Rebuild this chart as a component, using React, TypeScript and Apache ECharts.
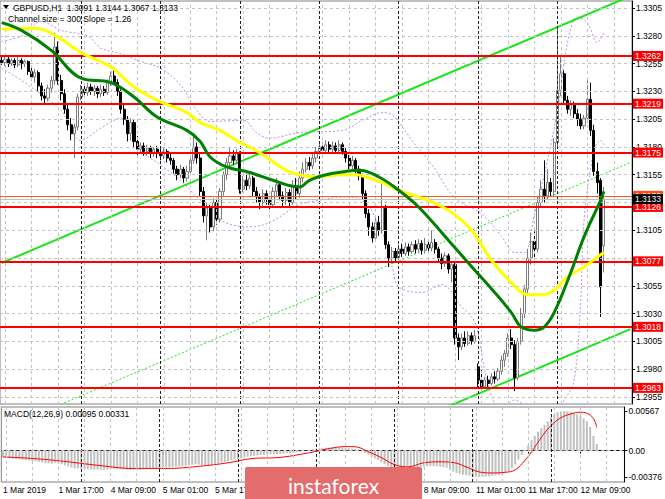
import React, { useEffect, useRef } from "react";
import * as echarts from "echarts";

const FONT = '"Liberation Sans", Arial, sans-serif';

// trading days and hourly bars shown for each
const DAYS: [string, number][] = [
  ["1 Mar", 24], ["4 Mar", 24], ["5 Mar", 24], ["6 Mar", 24],
  ["7 Mar", 24], ["8 Mar", 24], ["11 Mar", 24], ["12 Mar", 15],
];
const SLOT_COUNT = 191;

// candles: [open, close, low, high] in pips above 1.3000
const mar01 = [
  [258,256,254,261],[256,259,253,261],[259,255,252,262],[255,258,253,260],[258,254,251,260],[254,258,252,261],[258,255,250,260],[255,257,252,259],
  [257,248,245,258],[248,243,240,252],[243,247,238,250],[247,235,230,249],[235,226,222,238],[226,224,219,232],[224,233,221,236],[233,240,229,244],
  [240,270,236,283],[270,240,236,275],[240,228,222,245],[228,214,210,232],[214,200,195,218],[200,192,186,206],[192,198,170,201],[198,225,195,228],
];
const mar04 = [
  [225,232,222,236],[232,229,225,236],[229,234,226,238],[234,230,227,237],[230,233,226,236],[233,228,224,235],[228,232,225,236],[232,229,226,235],
  [229,238,227,241],[238,244,235,248],[244,238,236,252],[238,230,226,241],[230,214,210,232],[214,205,200,218],[205,192,185,208],[192,202,186,206],
  [202,185,180,205],[185,178,171,190],[178,181,174,184],[181,176,172,184],[176,179,172,182],[179,174,170,181],[174,178,171,180],[178,175,170,181],
];
const mar05 = [
  [175,172,168,178],[172,176,169,180],[176,170,166,178],[170,168,164,174],[168,160,156,170],[160,155,150,163],[155,160,152,164],[160,152,148,162],
  [152,158,149,163],[158,168,155,172],[168,180,165,189],[180,170,165,184],[170,140,136,174],[140,118,112,144],[118,125,96,130],[125,108,103,128],
  [108,130,104,134],[130,115,110,135],[115,140,112,143],[140,155,136,158],[155,166,150,170],[166,172,162,179],[172,168,164,177],[168,174,165,178],
];
const mar06 = [
  [174,142,138,176],[142,150,139,154],[150,145,141,156],[145,152,142,157],[152,140,136,154],[140,135,130,144],[135,130,124,138],[130,138,127,142],
  [138,133,128,141],[133,128,123,136],[128,140,126,144],[140,146,136,152],[146,136,132,149],[136,132,127,140],[132,139,128,143],[139,130,126,142],
  [130,145,128,150],[145,138,133,152],[138,152,134,158],[152,160,148,166],[160,166,157,170],[166,163,159,171],[163,170,160,174],[170,176,166,180],
];
const mar07 = [
  [176,180,173,184],[180,177,174,184],[177,182,175,186],[182,178,175,185],[178,181,175,185],[181,177,174,184],[177,182,175,186],[182,176,173,184],
  [176,170,166,179],[170,163,160,173],[163,168,160,172],[168,160,156,170],[160,154,150,163],[154,138,133,156],[138,120,116,141],[120,108,100,124],
  [108,98,94,112],[98,112,95,116],[112,105,100,118],[105,126,102,148],[126,92,88,128],[92,80,72,95],[80,86,75,90],[86,80,77,89],
];
const mar08 = [
  [80,88,78,92],[88,84,81,93],[84,90,82,94],[90,86,82,93],[86,92,84,95],[92,88,84,96],[88,93,85,97],[93,87,83,96],
  [87,92,84,98],[92,89,85,96],[89,94,86,105],[94,88,84,97],[88,80,76,90],[80,75,70,84],[75,82,72,85],[82,70,66,84],
  [70,74,58,77],[74,8,2,76],[8,0,-12,12],[0,8,-3,12],[8,3,0,14],[3,10,1,14],[10,5,2,13],[5,10,3,15],
];
const mar11 = [
  [-18,-30,-38,-15],[-30,-36,-40,-20],[-36,-30,-38,-27],[-30,-33,-37,-26],[-33,-27,-35,-24],[-27,-29,-33,-22],[-29,-22,-31,-19],[-22,-12,-25,-8],
  [-12,-6,-18,-3],[-6,8,-9,12],[8,2,-2,16],[2,-28,-40,6],[-28,5,-30,8],[5,30,2,35],[30,52,26,56],[52,80,48,88],
  [80,95,74,103],[95,88,80,104],[88,130,85,136],[130,142,126,150],[142,136,130,168],[136,148,132,160],[148,140,135,152],[140,184,136,188],
];
const mar12 = [
  [184,231,180,288],[231,246,226,261],[246,222,218,249],[222,214,210,226],[214,218,208,222],[218,210,206,221],[210,205,199,214],[205,199,196,210],
  [199,206,196,209],[206,223,202,240],[223,195,190,238],[195,158,154,200],[158,148,138,166],[150,54,27,152],[91,133,67,144],
];

// price axis ticks; labels hidden behind level tags in the reference are left out
const priceTicks = [1.2955,1.298,1.3005,1.303,1.3055,1.308,1.3105,1.313,1.3155,1.318,1.3205,1.323,1.3255,1.328,1.3305];
const priceLabels = [1.2955,1.298,1.3005,1.303,1.3055,1.3105,1.3155,1.318,1.3205,1.323,1.3255,1.328,1.3305];
const redLevels = [1.3262, 1.3219, 1.3175, 1.3126, 1.3077, 1.3018, 1.2963];
const askLevel = 1.3136;
const bidLevel = 1.3133;

// moving averages: [bar index, pips above 1.3000]
const yellowMA = [[0,286],[10,287],[17,279],[24,265],[33,252],[40,234],[47,222],[56,211],[60,202],[66,195],[72,184],[75,180],[80,171],[86,159],[90,155],[95,153],[103,155],[107,155],[110,153],[115,148],[120,141],[126,135],[135,123],[142,105],[148,78],[154,58],[159,47],[163,47],[167,51],[171,63],[176,72],[181,83],[182,85]];
const greenMA = [[0,292],[6,285],[15,267],[24,242],[33,238],[40,225],[47,207],[56,195],[60,185],[63,171],[68,162],[75,157],[82,150],[90,144],[93,150],[98,155],[104,158],[108,159],[114,153],[120,141],[126,126],[135,96],[143,69],[149,49],[154,31],[157,18],[161,15],[164,18],[167,31],[172,67],[176,99],[181,132],[182,140]];
const bandUpper = [[0,275],[6,280],[12,293],[18,285],[26,280],[30,269],[36,264],[42,257],[48,251],[54,236],[59,213],[63,203],[73,204],[77,193],[81,188],[90,193],[103,195],[109,204],[115,211],[118,209],[124,186],[130,164],[137,134],[145,120],[151,100],[155,85],[158,85],[161,119],[164,155],[168,213],[171,274],[174,297],[177,292],[180,274],[182,283]];
const bandLower = [[0,251],[6,240],[13,225],[18,213],[24,186],[30,197],[36,206],[42,177],[48,164],[54,150],[60,132],[66,114],[75,108],[81,112],[90,128],[96,132],[103,135],[109,132],[115,103],[118,72],[120,54],[127,49],[133,56],[139,36],[143,22],[147,-34],[151,-57],[155,-48],[160,-57],[166,-61],[170,-48],[173,-30],[175,42],[176,114],[179,177],[181,186],[182,182]];

// regression channel end points [bar index, pips]
const channelUpper = [[0,75.5],[190,315.9]];
const channelMiddle = [[0,-74.5],[190,165.9]];
const channelLower = [[0,-224.5],[190,15.9]];

// MACD main (histogram) per bar, in 1e-5
const macdHist = [
  -100,-105,-110,-115,-120,-125,-130,-135,-140,-150,-155,-160,
  -170,-178,-182,-185,-175,-180,-195,-210,-225,-240,-252,-255,
  -260,-264,-268,-270,-272,-274,-275,-274,-270,-265,-262,-262,
  -266,-270,-274,-276,-276,-275,-272,-268,-264,-260,-256,-252,
  -248,-244,-240,-236,-232,-228,-224,-220,-216,-210,-200,-195,
  -200,-210,-214,-212,-205,-196,-184,-172,-160,-148,-136,-124,
  -118,-108,-98,-88,-80,-74,-68,-64,-60,-58,-55,-52,
  -50,-47,-44,-40,-35,-30,-24,-16,-8,2,12,20,
  28,34,40,44,46,48,48,47,44,40,35,30,
  24,12,-8,-32,-58,-84,-110,-135,-165,-195,-220,-240,
  -252,-258,-260,-258,-254,-248,-243,-238,-233,-228,-224,-222,
  -222,-225,-230,-236,-245,-275,-300,-318,-332,-344,-352,-358,
  -366,-372,-376,-375,-372,-368,-362,-354,-344,-330,-314,-296,
  -250,-200,-130,-60,10,80,150,210,270,320,370,420,
  480,520,550,562,567,565,555,540,520,495,460,420,
  340,210,95,
];
// MACD signal read at sample bars, in 1e-5
const macdSignal = [[0,-90],[10,-115],[20,-160],[30,-215],[40,-255],[50,-255],[60,-225],[69,-174],[77,-110],[84,-100],[94,-29],[100,30],[105,58],[108,55],[112,-15],[116,-100],[120,-200],[124,-232],[129,-174],[134,-160],[138,-170],[142,-232],[146,-305],[150,-319],[154,-310],[157,-276],[160,-140],[162,-20],[164,120],[166,250],[168,360],[171,470],[174,525],[177,550],[179,535],[181,460],[182,331]];
const macdTicks = [-0.00376, 0, 0.00567];

// time labels fully covered by the watermark in the reference
const hiddenTimeLabels = [81, 97, 113];

const px = (p: number) => +(1.3 + p / 10000).toFixed(5);
const mv = (v: number) => +(v / 100000).toFixed(5);

export default function App() {
  const ref = useRef<HTMLDivElement>(null);
  useEffect(() => {
    if (!ref.current) return;
    const chart = echarts.init(ref.current, null, { renderer: "svg" });

    const catKeys: string[] = [];
    DAYS.forEach(([d, n]) => {
      for (let h = 0; h < n; h++) catKeys.push(`${d} ${String(h).padStart(2, "0")}:00`);
    });
    const barCount = catKeys.length;
    while (catKeys.length < SLOT_COUNT) catKeys.push(`slot${catKeys.length}`);

    const candles = [...mar01, ...mar04, ...mar05, ...mar06, ...mar07, ...mar08, ...mar11, ...mar12].map(
      ([o, c, l, h]) => [px(o), px(c), px(l), px(h)]
    );
    const last = candles[candles.length - 1];

    const tickIdx = (i: number) => i === 0 || (i % 16 === 1 && i > 1 && i < barCount);
    const labelIdx = (i: number) => tickIdx(i) && !hiddenTimeLabels.includes(i);

    const gridV: any[] = [];
    for (let i = 1; i < SLOT_COUNT; i += 8) gridV.push({ xAxis: catKeys[i] });
    const dayV: any[] = [];
    for (let i = 24; i < barCount; i += 24)
      dayV.push({ xAxis: catKeys[i], lineStyle: { color: "#202020", type: [3, 2], width: 1 } });

    const toPrice = (arr: number[][]) => arr.map(([i, p]) => [i, px(p)]);
    const lvlLabel = (bg: string) => ({
      show: true,
      position: "end",
      distance: 1,
      formatter: (p: any) => Number(p.value).toFixed(4),
      color: "#fff",
      backgroundColor: bg,
      padding: [1, 2, 0, 2],
      fontSize: 8.5,
      fontFamily: FONT,
    });

    const option: any = {
      animation: false,
      backgroundColor: "#fff",
      grid: [
        { left: -1.5, top: 1, width: 633.5, height: 403, show: true, borderColor: "#808080", borderWidth: 1 },
        { left: -1.5, top: 407, width: 633.5, height: 75, show: true, borderColor: "#808080", borderWidth: 1 },
      ],
      xAxis: [
        { type: "category", gridIndex: 0, data: catKeys, boundaryGap: true, show: false },
        {
          type: "category", gridIndex: 1, data: catKeys, boundaryGap: true,
          axisLine: { show: true, lineStyle: { color: "#000" } },
          axisTick: { show: true, interval: (i: number) => tickIdx(i), alignWithLabel: true, length: 3, lineStyle: { color: "#000" } },
          axisLabel: {
            interval: (i: number) => labelIdx(i),
            formatter: (v: string, i: number) => (i === 0 ? "1 Mar 2019" : v),
            align: "left", margin: 3, color: "#000", fontSize: 8.5, fontFamily: FONT,
            hideOverlap: false,
          },
          splitLine: { show: false },
        },
      ],
      yAxis: [
        {
          type: "value", gridIndex: 0, position: "right", min: 1.29485, max: 1.33115,
          axisLine: { show: true, lineStyle: { color: "#000" } },
          axisTick: { show: true, length: 3, customValues: priceTicks, lineStyle: { color: "#000" } },
          axisLabel: { customValues: priceLabels, formatter: (v: number) => v.toFixed(4), margin: 4, color: "#000", fontSize: 8.5, fontFamily: FONT },
          splitLine: { show: false },
        },
        {
          type: "value", gridIndex: 1, position: "right", min: -0.00449, max: 0.00625,
          axisLine: { show: true, lineStyle: { color: "#000" } },
          axisTick: { show: true, length: 3, customValues: macdTicks, lineStyle: { color: "#000" } },
          axisLabel: { customValues: macdTicks, formatter: (v: number) => (v === 0 ? "0.00" : v.toFixed(5)), margin: 4, color: "#000", fontSize: 8.5, fontFamily: FONT },
          splitLine: { show: false },
        },
      ],
      series: [
        {
          type: "line", xAxisIndex: 0, yAxisIndex: 0, data: [], z: 1, silent: true,
          markLine: {
            silent: true, symbol: ["none", "none"], animation: false, precision: 5, label: { show: false },
            lineStyle: { color: "#c4c4c4", type: [3, 3], width: 1 },
            data: [...gridV, ...dayV, ...priceTicks.map((v) => ({ yAxis: v }))],
          },
        },
        {
          type: "line", xAxisIndex: 0, yAxisIndex: 0, data: toPrice(bandUpper), smooth: 0.35, showSymbol: false, z: 2, silent: true,
          lineStyle: { color: "#c58ae8", width: 1, type: [2, 2] },
        },
        {
          type: "line", xAxisIndex: 0, yAxisIndex: 0, data: toPrice(bandLower), smooth: 0.35, showSymbol: false, z: 2, silent: true,
          lineStyle: { color: "#c58ae8", width: 1, type: [2, 2] },
        },
        {
          type: "line", xAxisIndex: 0, yAxisIndex: 0, data: toPrice(channelUpper), showSymbol: false, z: 3, silent: true,
          lineStyle: { color: "#19e619", width: 2 },
        },
        {
          type: "line", xAxisIndex: 0, yAxisIndex: 0, data: toPrice(channelMiddle), showSymbol: false, z: 3, silent: true,
          lineStyle: { color: "#19e619", width: 1, type: [2, 2] },
        },
        {
          type: "line", xAxisIndex: 0, yAxisIndex: 0, data: toPrice(channelLower), showSymbol: false, z: 3, silent: true,
          lineStyle: { color: "#19e619", width: 2 },
        },
        {
          type: "candlestick", xAxisIndex: 0, yAxisIndex: 0, data: candles, z: 4, barWidth: 2.6, silent: true,
          itemStyle: { color: "#ffffff", borderColor: "#7a7a7a", color0: "#000000", borderColor0: "#000000", borderWidth: 1 },
        },
        {
          type: "line", xAxisIndex: 0, yAxisIndex: 0, data: toPrice(yellowMA), smooth: 0.4, showSymbol: false, z: 5, silent: true,
          lineStyle: { color: "#ffff00", width: 3 },
        },
        {
          type: "line", xAxisIndex: 0, yAxisIndex: 0, data: toPrice(greenMA), smooth: 0.4, showSymbol: false, z: 5, silent: true,
          lineStyle: { color: "#008000", width: 3 },
        },
        {
          type: "line", xAxisIndex: 0, yAxisIndex: 0, data: [], z: 6, silent: true,
          markLine: {
            silent: true, symbol: ["none", "none"], animation: false, precision: 5,
            data: [
              ...redLevels.map((v) => ({ yAxis: v, lineStyle: { color: "#ff0000", width: 2, type: "solid" }, label: lvlLabel("#ff0000") })),
              { yAxis: askLevel, lineStyle: { color: "#ff5a1e", width: 1, type: "solid" }, label: lvlLabel("#ff4d14") },
              { yAxis: bidLevel, lineStyle: { color: "#c0c0c0", width: 1, type: "solid" }, label: lvlLabel("#000000") },
            ],
          },
        },
        {
          type: "line", xAxisIndex: 1, yAxisIndex: 1, data: [], z: 1, silent: true,
          markLine: {
            silent: true, symbol: ["none", "none"], animation: false, precision: 6, label: { show: false },
            lineStyle: { color: "#c4c4c4", type: [3, 3], width: 1 },
            data: [...gridV, ...dayV, { yAxis: 0 }],
          },
        },
        {
          type: "bar", xAxisIndex: 1, yAxisIndex: 1, data: macdHist.map(mv), barWidth: 2, z: 2, silent: true,
          itemStyle: { color: "#c0c0c0" },
        },
        {
          type: "line", xAxisIndex: 1, yAxisIndex: 1, data: macdSignal.map(([i, v]) => [i, mv(v)]), smooth: 0.4, showSymbol: false, z: 3, silent: true,
          lineStyle: { color: "#ff0000", width: 1 },
        },
      ],
      graphic: [
        { type: "polygon", shape: { points: [[3, 5], [9, 5], [6, 9]] }, style: { fill: "#000" }, z: 50 },
        {
          type: "text", x: 13, y: 7.5, z: 50,
          style: {
            text: `GBPUSD,H1  ${last[0].toFixed(4)} ${last[3].toFixed(4)} ${last[2].toFixed(4)} ${last[1].toFixed(4)}`,
            fill: "#000", font: `8.5px ${FONT}`, verticalAlign: "middle",
          },
        },
        {
          type: "text", x: 8, y: 19, z: 50,
          style: { text: "Channel size = 300 Slope = 1.26", fill: "#000", font: `8.5px ${FONT}`, verticalAlign: "middle" },
        },
        {
          type: "text", x: 4, y: 414, z: 50,
          style: {
            text: `MACD(12,26,9) ${mv(macdHist[macdHist.length - 1]).toFixed(5)} ${mv(macdSignal[macdSignal.length - 1][1]).toFixed(5)}`,
            fill: "#000", font: `8.5px ${FONT}`, verticalAlign: "middle",
          },
        },
        {
          type: "group", z: 100,
          children: [
            { type: "rect", shape: { x: 245, y: 467, width: 177, height: 40, r: 2 }, style: { fill: "#e36c6c" }, z: 100 },
            {
              type: "text", x: 333.5, y: 485, z: 101,
              style: { text: "instaforex", fill: "#ffffff", font: `21px Lato, "Open Sans", sans-serif`, align: "center", verticalAlign: "middle" },
            },
          ],
        },
      ],
    };

    chart.setOption(option);
    return () => chart.dispose();
  }, []);

  return (
    <div
      ref={ref}
      style={{ position: "fixed", left: 0, top: 0, width: 665, height: 499, background: "#fff" }}
    />
  );
}
